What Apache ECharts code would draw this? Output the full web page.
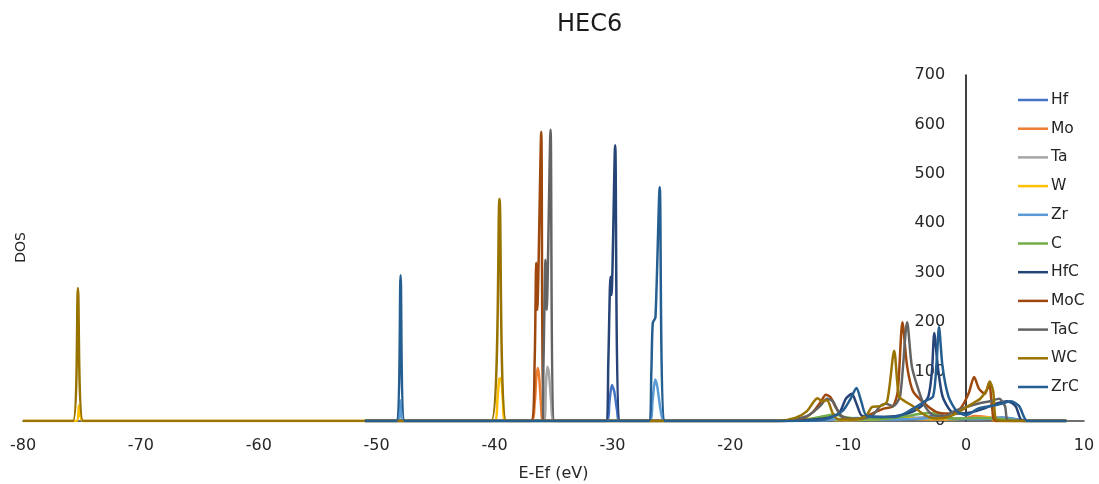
<!DOCTYPE html>
<html>
<head>
<meta charset="utf-8">
<title>HEC6 DOS</title>
<script src="https://cdn.jsdelivr.net/npm/echarts@6/dist/echarts.min.js"></script>
<style>
  html, body { margin: 0; padding: 0; background: #ffffff; }
  #chart { width: 1099px; height: 484px; }
</style>
</head>
<body>
<div id="chart"></div>
<script>
// Energy axis (E-Ef, eV) and DOS axis settings
const energyTicks = [-80, -70, -60, -50, -40, -30, -20, -10, 0, 10];
const dosTicks = [0, 100, 200, 300, 400, 500, 600, 700];

const seriesNames = ['Hf', 'Mo', 'Ta', 'W', 'Zr', 'C', 'HfC', 'MoC', 'TaC', 'WC', 'ZrC'];
const seriesColors = ['#4472C4', '#ED7D31', '#A5A5A5', '#FFC000', '#5B9BD5', '#70AD47',
                      '#264478', '#9E480E', '#636363', '#997300', '#255E91'];

// [E-Ef, DOS] points for each curve
const hf = [[-51,0],[-30.5,0],[-30.25,40],[-30.05,73],[-29.85,60],[-29.6,20],[-29.4,0],
  [-16,0],[-12,2],[-10,4],[-8,3],[-5,5],[-3.2,8],[-2.6,14],[-2.1,7],[-1,4],[1,5],[3,7],[4.5,3],[5.5,0],[8.5,0]];
const mo = [[-51,0],[-36.9,0],[-36.6,35],[-36.45,90],[-36.32,107],[-36.2,85],[-36.05,30],[-35.9,0],
  [-16,0],[-13,3],[-12,6],[-11,3],[-7,4],[-5.4,10],[-4.5,5],[-2,3],[0,6],[0.7,10],[2,7],[2.5,0],[8.5,0]];
const ta = [[-51,0],[-35.8,0],[-35.65,70],[-35.52,110],[-35.4,100],[-35.2,40],[-34.95,0],
  [-16,0],[-12,4],[-10,2],[-7,4],[-5,9],[-4,5],[-1,4],[1,6],[3,6],[3.6,0],[8.5,0]];
const w = [[-80,0],[-75.45,0],[-75.25,32],[-74.9,0],[-40.0,0],[-39.75,45],[-39.6,85],[-39.45,87],[-39.3,45],[-39.1,0],
  [-16,0],[-12.6,5],[-11,2],[-7,4],[-6.1,9],[-4,4],[-1,4],[1,6],[2,7],[2.5,0],[8.5,0]];
const zr = [[-51,0],[-48.25,0],[-48.0,42],[-47.75,0],[-26.85,0],[-26.6,40],[-26.38,84],[-26.2,70],[-25.9,20],[-25.6,0],
  [-16,0],[-12,2],[-9.3,6],[-7,3],[-3,6],[-2.3,12],[-1.5,5],[1,4],[3.5,6],[5,0],[8.5,0]];
const c = [[-51,0],[-16,0],[-13.5,3],[-12,10],[-11.2,13],[-10.3,8],[-9,3],[-7,4],[-5.5,8],[-4,14],[-3,16],[-2,9],
  [-1,5],[1,6],[3,4],[5,0],[8.5,0]];
const hfc = [[-51,0],[-30.55,0],[-30.35,120],[-30.17,292],[-30.08,255],[-29.77,558],[-29.35,0],
  [-16,0],[-12,5],[-10.8,15],[-10.2,45],[-9.7,55],[-9.3,35],[-8.8,10],[-7,8],[-5,15],[-3.8,30],[-3.2,50],
  [-2.9,100],[-2.7,178],[-2.4,110],[-2.0,50],[-1.3,20],[-0.5,15],[0.5,18],[1.5,25],[2.5,35],[3.5,40],[4.2,30],[4.8,0],[8.5,0]];
const moc = [[-51,0],[-36.9,0],[-36.6,120],[-36.47,320],[-36.38,225],[-36.04,585],[-35.78,0],
  [-16,0],[-14,4],[-13,18],[-12.3,40],[-11.9,53],[-11.5,48],[-11,25],[-10.3,5],[-9,4],[-8,15],[-7,25],[-6.2,30],
  [-5.8,60],[-5.4,200],[-5.0,110],[-4.5,60],[-3.5,35],[-2.5,18],[-1.5,15],[-0.5,25],[0.2,55],[0.68,89],[1.1,65],
  [1.6,55],[1.95,78],[2.2,30],[2.5,0],[8.5,0]];
const tac = [[-51,0],[-36.0,0],[-35.85,120],[-35.68,326],[-35.58,225],[-35.25,589],[-34.92,0],
  [-16,0],[-13.5,10],[-12.4,30],[-11.8,45],[-11.3,40],[-10.6,10],[-9.5,4],[-8,10],[-7.3,30],[-6.8,35],[-6.2,30],
  [-5.6,50],[-5.0,200],[-4.6,110],[-4.0,60],[-3.5,30],[-2.8,12],[-1.8,10],[-1,20],[0,28],[1,35],[2,40],[2.8,45],
  [3.3,30],[3.6,0],[8.5,0]];
const wc = [[-80,0],[-75.76,0],[-75.34,269],[-74.9,0],[-40.28,0],[-39.58,449],[-39.0,0],
  [-16,0],[-14.5,6],[-13.5,20],[-12.9,40],[-12.6,46],[-12.2,40],[-11.8,42],[-11.3,15],[-10.8,3],[-9.5,3],[-8.5,10],
  [-8.0,28],[-7.3,30],[-6.7,40],[-6.1,142],[-5.7,50],[-5.2,40],[-4.5,30],[-3.5,12],[-2.5,5],[-1.5,8],[-0.5,20],
  [0.5,35],[1.2,45],[1.8,65],[2.0,80],[2.3,60],[2.5,5],[3,0],[8.5,0]];
const zrc = [[-51,0],[-48.33,0],[-47.97,295],[-47.63,0],[-26.9,0],[-26.7,100],[-26.58,198],[-26.35,210],[-25.99,473],[-25.55,0],
  [-16,0],[-12,3],[-10.5,20],[-9.8,45],[-9.3,67],[-8.9,40],[-8.4,10],[-6,8],[-4.5,25],[-3.5,40],[-2.8,50],
  [-2.5,120],[-2.3,190],[-2.0,110],[-1.5,50],[-0.8,20],[0,12],[1,25],[2,30],[3,35],[3.8,40],[4.5,30],[5.2,0],[8.5,0]];

const seriesData = [hf, mo, ta, w, zr, c, hfc, moc, tac, wc, zrc];

const labelFont = 'DejaVu Sans, sans-serif';
const textColor = '#262626';

// Plot area
const gridLeft = 23;
const gridRight = 15;
const chartWidth = 1099;
const plotWidth = chartWidth - gridLeft - gridRight;
const xMin = energyTicks[0];
const xMax = energyTicks[energyTicks.length - 1];
// the DOS axis stands at E-Ef = 0
const zeroOffset = plotWidth * (0 - xMin) / (xMax - xMin);

const chart = echarts.init(document.getElementById('chart'), null, { renderer: 'canvas' });

chart.setOption({
  animation: false,
  backgroundColor: '#ffffff',
  title: {
    text: 'HEC6',
    left: 552,
    top: 8,
    textStyle: { fontFamily: labelFont, fontSize: 24, fontWeight: 'normal', color: '#1a1a1a' }
  },
  legend: {
    orient: 'vertical',
    left: 1013,
    top: 87,
    itemWidth: 30,
    itemHeight: 2.5,
    itemGap: 12.7,
    icon: 'rect',
    data: seriesNames,
    textStyle: { fontFamily: labelFont, fontSize: 15.5, color: textColor, padding: [0, 0, 0, -2] }
  },
  grid: { left: gridLeft, right: gridRight, top: 75, bottom: 63, containLabel: false, outerBoundsMode: 'none' },
  xAxis: {
    type: 'value',
    min: xMin,
    max: xMax,
    interval: 10,
    name: 'E-Ef (eV)',
    nameLocation: 'middle',
    nameGap: 45,
    nameTextStyle: { fontFamily: labelFont, fontSize: 16, color: textColor },
    axisLine: { show: true, onZero: false, lineStyle: { color: '#404040', width: 1.5 } },
    axisTick: { show: false },
    splitLine: { show: false },
    axisLabel: { margin: 17, fontFamily: labelFont, fontSize: 16, color: textColor }
  },
  yAxis: {
    type: 'value',
    position: 'left',
    offset: -zeroOffset,
    min: dosTicks[0],
    max: dosTicks[dosTicks.length - 1],
    interval: 100,
    axisLine: { show: true, onZero: false, lineStyle: { color: '#000000', width: 1.5 } },
    axisTick: { show: false },
    splitLine: { show: false },
    axisLabel: { margin: 21, fontFamily: labelFont, fontSize: 16, color: textColor }
  },
  graphic: [{
    type: 'text',
    left: 14,
    top: 232,
    rotation: Math.PI / 2,
    style: { text: 'DOS', font: '14px DejaVu Sans, sans-serif', fill: textColor }
  }],
  series: seriesNames.map((name, i) => ({
    name: name,
    type: 'line',
    data: seriesData[i],
    symbol: 'none',
    smooth: 0.25,
    color: seriesColors[i],
    lineStyle: { width: 2.5, color: seriesColors[i] }
  }))
});
</script>
</body>
</html>
